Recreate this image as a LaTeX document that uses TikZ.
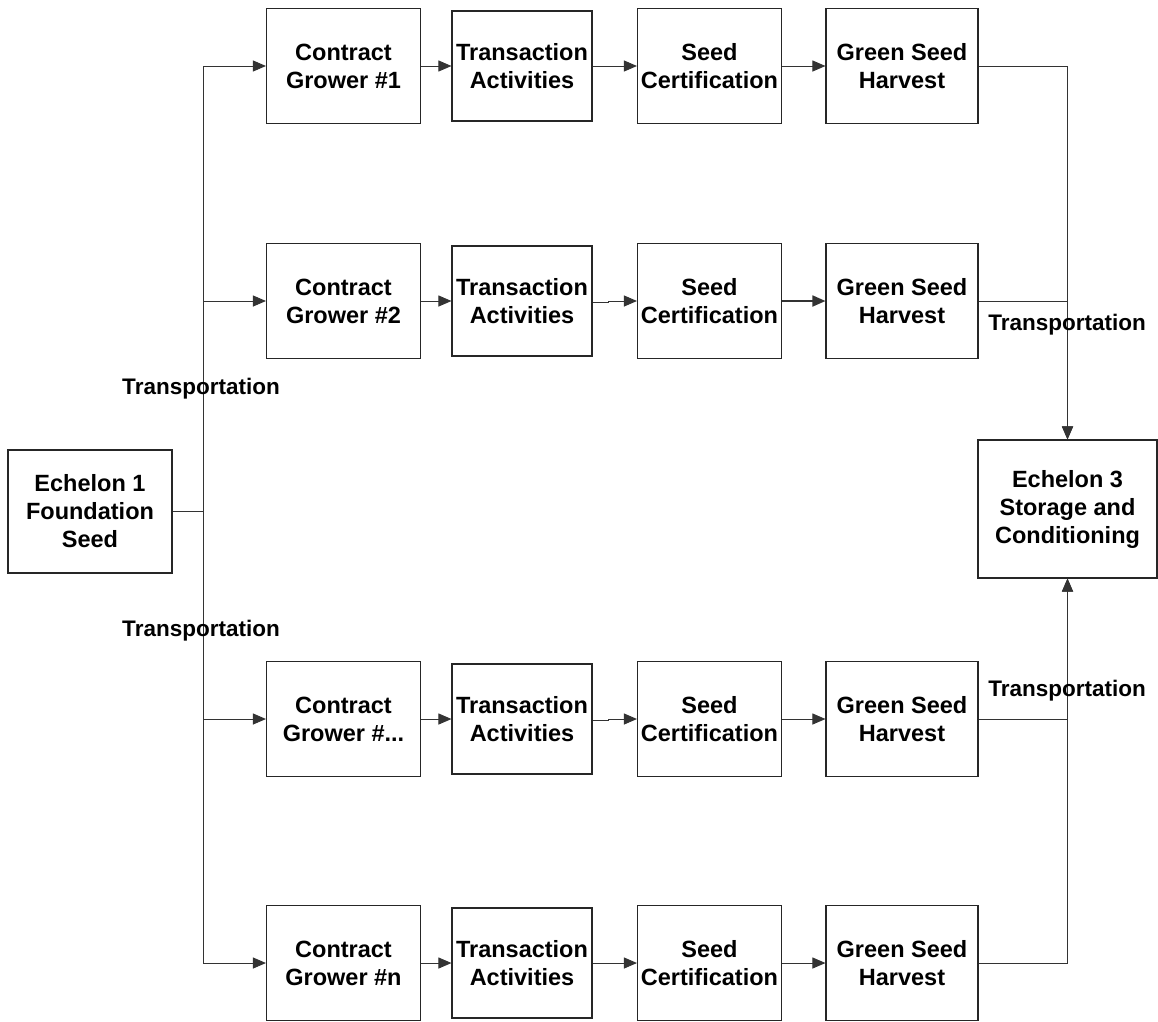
\documentclass[tikz,border=0pt]{standalone}
\usepackage{fontspec}
\setmainfont{Liberation Sans}
\usetikzlibrary{arrows.meta,positioning}

\newcommand{\growdots}{...}

\tikzset{
  box/.style={draw=black!85, line width=1.1pt, align=center, inner sep=0pt,
    font=\fontsize{23.5}{28}\selectfont\bfseries},
  line/.style={draw=black!80, line width=0.9pt},
  arr/.style={line, -{Triangle[length=13pt,width=11pt]}},
  lab/.style={font=\fontsize{22.5}{28}\selectfont\bfseries}
}

\begin{document}
\begin{tikzpicture}[x=1pt,y=-1pt]
	\useasboundingbox (0,0) rectangle (1158,1021);
	
	% Echelons
	\node[box, minimum width=164pt, minimum height=123pt] (e1) at (90,511.5) {Echelon 1\\Foundation\\Seed};
	\node[box, minimum width=179pt, minimum height=138pt] (e3) at (1067.5,509) {Echelon 3\\Storage and\\Conditioning};
	
	% Grower rows
	\foreach \n/\y/\g in {1/66/1, 2/301/2, 3/719/\growdots, 4/963/n} {
		\node[box, minimum width=154pt, minimum height=115pt] (cg\n) at (343.5,\y) {Contract\\Grower \#\g};
		\node[box, minimum width=140pt, minimum height=110pt] (ta\n) at (522,\y) {Transaction\\Activities};
		\node[box, minimum width=144pt, minimum height=115pt] (sc\n) at (709.5,\y) {Seed\\Certification};
		\node[box, minimum width=152pt, minimum height=115pt] (gsh\n) at (902,\y) {Green Seed\\Harvest};
		\draw[arr] (cg\n) -- (ta\n);
	}
	
	% Inside the rows
	\draw[arr] (ta1) -- (sc1);
	\draw[arr] (ta4) -- (sc4);
	\foreach \n in {2,3} \draw[arr] ([yshift=-1.5pt]ta\n.east) -- ++(16,0) |- (sc\n.west);
	\draw[arr] (sc1) -- (gsh1);
	\draw[arr, line width=1.8pt] (sc2) -- (gsh2);
	\draw[arr] (sc3) -- (gsh3);
	\draw[arr] (sc4) -- (gsh4);
	
	% Transportation to the growers
	\path (e1.east) ++(31,0) coordinate (split);
	\draw[line] (e1.east) -- (split);
	\foreach \n in {1,...,4} \draw[arr] (split) |- (cg\n.west);
	
	% Transportation to storage
	\foreach \n in {1,2} \draw[arr] (gsh\n.east) -| (e3.north);
	\foreach \n in {3,4} \draw[arr] (gsh\n.east) -| (e3.south);
	
	% Labels
	\node[lab] (tl1) at (201,389) {Transportation};
	\node[lab] (tl2) at (201,631) {Transportation};
	\node[lab] (tr1) at (1067,325) {Transportation};
	\node[lab] (tr2) at (1067,691) {Transportation};
\end{tikzpicture}
\end{document}
